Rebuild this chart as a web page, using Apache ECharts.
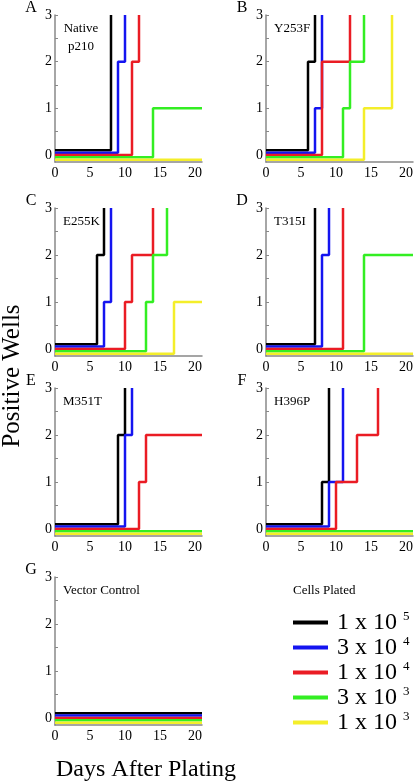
<!DOCTYPE html>
<html><head><meta charset="utf-8">
<script src="https://cdn.jsdelivr.net/npm/echarts@6/dist/echarts.min.js"></script>
<style>html,body{margin:0;padding:0;background:#fff}#c{width:416px;height:784px}</style>
</head><body><div id="c"></div>
<script>
// ---------- data ----------
const panelLetters = ['A','B','C','D','E','F','G'];
const panelTitles = ['Native\np210','Y253F','E255K','T315I','M351T','H396P','Vector Control'];
const seriesNames = ['1 x 10^5','3 x 10^4','1 x 10^4','3 x 10^3','1 x 10^3'];
const xTickLabels = [0,5,10,15,20];
const yTickLabels = [0,1,2,3];
const yTickMarks = [0,0.5,1,1.5,2,2.5,3];
const xMax = 21;
// each panel: [black, blue, red, green, yellow] as [day, positive wells] change points
const panelA = [
  [[0,0],[8,3]],
  [[0,0],[9,2],[10,3]],
  [[0,0],[11,2],[12,3]],
  [[0,0],[14,1],[21,1]],
  [[0,0],[21,0]]
];
const panelB = [
  [[0,0],[6,2],[7,3]],
  [[0,0],[7,1],[8,3]],
  [[0,0],[8,2],[12,3]],
  [[0,0],[11,1],[12,2],[14,3]],
  [[0,0],[14,1],[18,3]]
];
const panelC = [
  [[0,0],[6,2],[7,3]],
  [[0,0],[7,1],[8,3]],
  [[0,0],[10,1],[11,2],[14,3]],
  [[0,0],[13,1],[14,2],[16,3]],
  [[0,0],[17,1],[21,1]]
];
const panelD = [
  [[0,0],[7,3]],
  [[0,0],[8,2],[9,3]],
  [[0,0],[11,3]],
  [[0,0],[14,2],[21,2]],
  [[0,0],[21,0]]
];
const panelE = [
  [[0,0],[9,2],[10,3]],
  [[0,0],[10,2],[11,3]],
  [[0,0],[12,1],[13,2],[21,2]],
  [[0,0],[21,0]],
  [[0,0],[21,0]]
];
const panelF = [
  [[0,0],[8,1],[9,3]],
  [[0,0],[9,1],[11,3]],
  [[0,0],[10,1],[13,2],[16,3]],
  [[0,0],[21,0]],
  [[0,0],[21,0]]
];
const panelG = [
  [[0,0],[21,0]],
  [[0,0],[21,0]],
  [[0,0],[21,0]],
  [[0,0],[21,0]],
  [[0,0],[21,0]]
];
const panels = [panelA,panelB,panelC,panelD,panelE,panelF,panelG];

// ---------- style ----------
const colors = ['#000000','#1414f0','#ea1c24','#33ee22','#f4ee2a'];
const baseOffset = [0.1,0.05,0,-0.05,-0.1]; // visual separation of the zero lines
const boxes = [[55,15,147,147],[266,15,148,147],[55,208,147,148],[266,208,148,148],
               [55,388,147,148],[266,388,148,148],[55,577,147,148]];
const serif = 'Liberation Serif';

const grid=[],xAxis=[],yAxis=[],series=[],graphic=[];
panels.forEach((p,i)=>{
  const b=boxes[i];
  grid.push({left:b[0],top:b[1],width:b[2],height:b[3]});
  xAxis.push({type:'value',gridIndex:i,min:0,max:xMax,interval:5,
    axisLine:{onZero:false,lineStyle:{color:'#888',width:1.5}},
    axisTick:{show:false},splitLine:{show:false},
    axisLabel:{customValues:xTickLabels,color:'#000',fontFamily:serif,fontSize:14,margin:4}});
  yAxis.push({type:'value',gridIndex:i,min:-0.15,max:3,
    axisLine:{show:true,onZero:false,lineStyle:{color:'#888',width:1.5}},
    axisTick:{show:true,inside:true,length:3,customValues:yTickMarks,lineStyle:{color:'#888'}},
    splitLine:{show:false},
    axisLabel:{customValues:yTickLabels,color:'#000',fontFamily:serif,fontSize:14,margin:3}});
  p.forEach((d,k)=>{
    series.push({type:'line',name:seriesNames[k],xAxisIndex:i,yAxisIndex:i,step:'end',
      symbol:'none',color:colors[k],lineStyle:{color:colors[k],width:2.5},
      data:d.map(pt=>[pt[0], pt[1]===0 ? pt[1]+baseOffset[k] : pt[1]]),z:2+k});
  });
  graphic.push({type:'text',x:b[0]-24,y:b[1]-7,style:{text:panelLetters[i],font:'16px '+serif,fill:'#000',textAlign:'center',textVerticalAlign:'middle'}});
  const multi = panelTitles[i].indexOf('\n')>=0;
  graphic.push({type:'text',x:multi?b[0]+26:b[0]+8,y:b[1]+5,style:{text:panelTitles[i],font:'13px '+serif,fill:'#000',textAlign:multi?'center':'left',textVerticalAlign:'top',lineHeight:18}});
});
graphic.push({type:'text',x:12,y:376,rotation:Math.PI/2,style:{text:'Positive Wells',font:'25px '+serif,fill:'#000',textAlign:'center',textVerticalAlign:'middle'}});
graphic.push({type:'text',x:146,y:770,style:{text:'Days After Plating',font:'24px '+serif,fill:'#000',textAlign:'center',textVerticalAlign:'middle'}});
graphic.push({type:'text',x:293,y:591,style:{text:'Cells Plated',font:'13px '+serif,fill:'#000',textAlign:'left',textVerticalAlign:'middle'}});

const chart = echarts.init(document.getElementById('c'),null,{renderer:'canvas'});
chart.setOption({
  animation:false,
  textStyle:{fontFamily:serif},
  grid,xAxis,yAxis,series,graphic,
  legend:{orient:'vertical',left:293,top:610,padding:0,icon:'rect',itemWidth:35,itemHeight:4,itemGap:0.5,
    data:seriesNames,selectedMode:false,
    formatter:n=>{const s=n.split('^');return '{b|'+s[0]+' }{s|'+s[1]+'}';},
    textStyle:{fontFamily:serif,rich:{
      b:{fontFamily:serif,fontSize:24,color:'#000',lineHeight:25,padding:[0,0,0,4],verticalAlign:'middle'},
      s:{fontFamily:serif,fontSize:13,color:'#000',lineHeight:14,verticalAlign:'top'}}}}
});
</script></body></html>
